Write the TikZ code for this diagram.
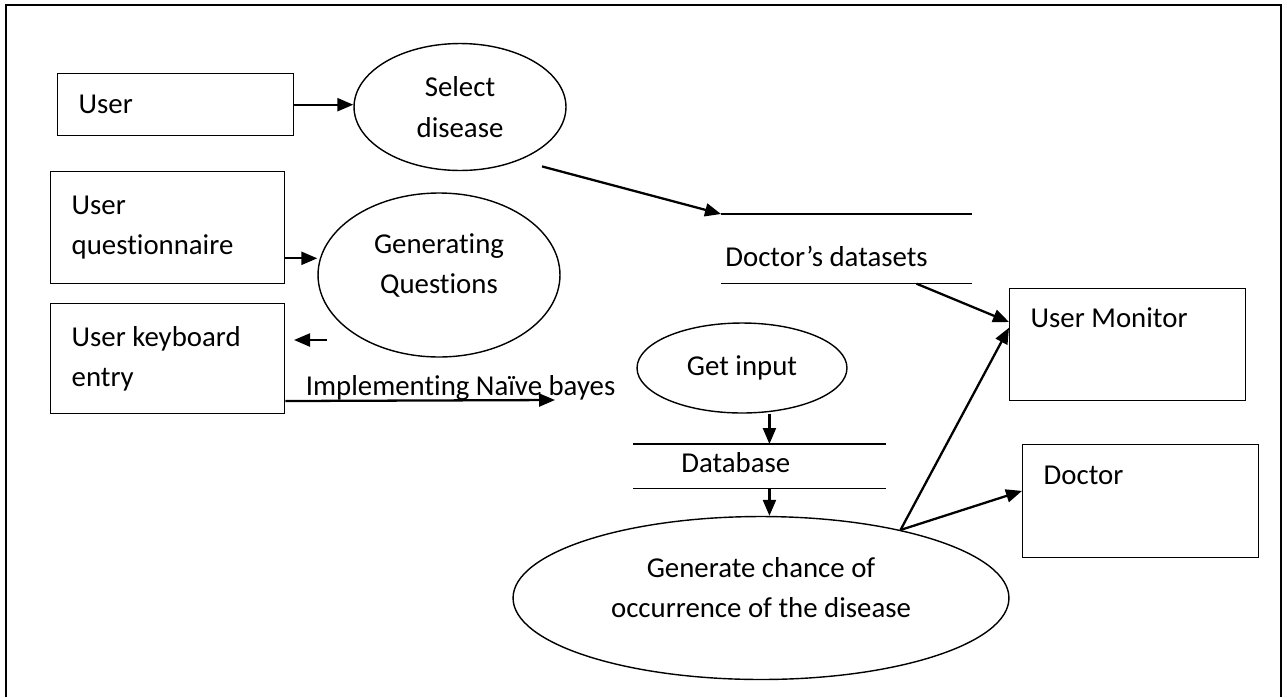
\documentclass[tikz,border=0pt]{standalone}
\usepackage{fontspec}
\setmainfont{Carlito}[Ligatures={NoCommon}]
\usepackage{tikz}
\usetikzlibrary{positioning, arrows.meta, shapes.geometric}
\usetikzlibrary{calc}

\begin{document}
\begin{tikzpicture}[
    x=0.02cm, y=-0.02cm,
    entidad/.style={
        rectangle,
        draw=black,
        line width=0.8pt,
        align=flush left,
        anchor=north west,
        inner xsep=0.42cm,
        font=\fontsize{16.4}{23}\selectfont
    },
    proceso/.style={
        ellipse,
        draw=black,
        line width=0.8pt,
        align=center,
        inner sep=0pt,
        font=\fontsize{16.4}{23}\selectfont
    },
    almacen/.style={
        rectangle,
        align=flush left,
        anchor=north west,
        inner ysep=0pt,
        font=\fontsize{16.4}{23}\selectfont
    },
    etiqueta/.style={
        font=\fontsize{16.4}{23}\selectfont
    },
    linea/.style={
        line width=0.8pt
    },
    flecha/.style={
        -{Triangle[length=0.32cm, width=0.26cm]},
        line width=1.3pt
    }
]
\useasboundingbox (0,0) rectangle (1287,697);

% marco
\draw[line width=1.2pt] (6,697) -- (6,5) -- (1281,5) -- (1281,697);

% entidades
\node[entidad, minimum width=4.72cm, minimum height=1.24cm, text width=3.88cm] (user) at (57,73) {User};
\node[entidad, minimum width=4.68cm, minimum height=2.24cm, text width=3.84cm] (quest) at (50,171) {User\\questionnaire};
\node[entidad, minimum width=4.68cm, minimum height=2.2cm, text width=3.84cm] (kbd) at (50,303) {User keyboard\\entry};
\node[entidad, minimum width=4.72cm, text width=3.88cm, inner ysep=0pt, text height=0.78cm, text depth=1.46cm] (monitor) at (1009,288) {User Monitor};
\node[entidad, minimum width=4.72cm, text width=3.88cm, inner ysep=0pt, text height=0.8cm, text depth=1.46cm] (doctor) at (1022,444) {Doctor};

% procesos
\node[proceso, minimum width=4.24cm, minimum height=2.54cm] (select) at (460,107) {Select\\disease};
\node[proceso, minimum width=4.84cm, minimum height=3.28cm, text depth=0.45cm] (genq) at (439,275) {Generating\\Questions};
\node[proceso, minimum width=4.2cm, minimum height=1.8cm] (getin) at (742,368) {Get input};
\node[proceso, minimum width=9.92cm, minimum height=3.26cm, text depth=0.42cm] (gen) at (761,598) {Generate chance of\\occurrence of the disease};

% almacenes
\node[almacen, text width=4.84cm, inner xsep=0.08cm, text height=1.04cm, text depth=0.34cm] (dsets) at (721,214) {Doctor’s datasets};
\node[almacen, text width=3.12cm, inner xsep=0.96cm, text height=0.56cm, text depth=0.32cm] (db) at (633,444) {Database};
\draw[linea] (dsets.north west) -- (dsets.north east);
\draw[linea] (dsets.south west) -- (dsets.south east);
\draw[linea] (db.north west) -- (db.north east);
\draw[linea] (db.south west) -- (db.south east);

% flujos
\coordinate (qout) at ($(quest.north east)!0.77!(quest.south east)$);
\coordinate (qback) at (327,340);
\coordinate (qbackend) at (294,340);
\coordinate (kout) at ($(kbd.north east)!0.88!(kbd.south east)$);
\coordinate (bayes) at (555,400);
\coordinate (dsout) at ($(dsets.south west)!0.78!(dsets.south east)$);
\coordinate (dbin) at ($(db.north west)!0.54!(db.north east)$);
\coordinate (dbout) at ($(db.south west)!0.54!(db.south east)$);

\draw[flecha] (user.east) -- (user.east -| select.west);
\draw[flecha] ([xshift=0.28cm, yshift=-0.2cm]select.-36) -- (dsets.north west);
\draw[flecha] (qout) -- (qout -| genq.west);
\draw[flecha] (qback) -- (qbackend);
\draw[flecha] (kout) -- (bayes) node[etiqueta, pos=0.65, anchor=base, yshift=0.1cm] {Implementing Naïve bayes};
\draw[flecha] (dsout) -- ($(monitor.north west)!0.3!(monitor.south west)$);
\draw[flecha] (getin.south -| dbin) -- (dbin);
\draw[flecha] (dbout) -- (dbout |- gen.north);
\draw[flecha] (gen.26) -- ($(monitor.north west)!0.35!(monitor.south west)$);
\draw[flecha] (gen.26) -- ($(doctor.north west)!0.41!(doctor.south west)$);

\end{tikzpicture}
\end{document}
